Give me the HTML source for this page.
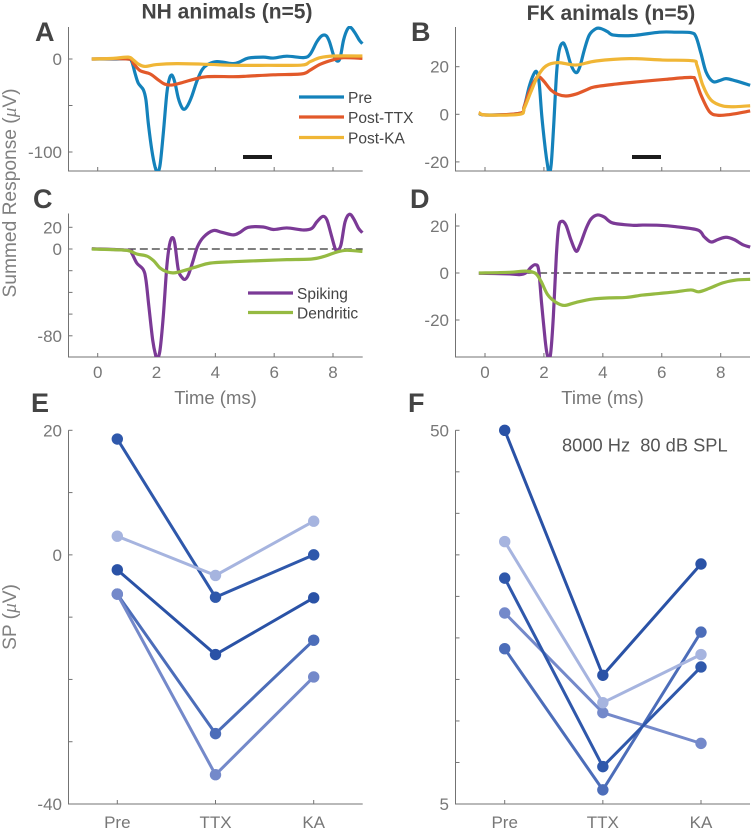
<!DOCTYPE html>
<html lang="en">
<head>
<meta charset="utf-8">
<title>Summed responses in NH and FK animals</title>
<style>
html,body{margin:0;padding:0;background:#fff;}
svg{display:block;font-family:"Liberation Sans",sans-serif;}
</style>
</head>
<body>
<svg id="figure" xmlns="http://www.w3.org/2000/svg" width="752" height="832" viewBox="0 0 752 832">
  <text x="227" y="18.5" text-anchor="middle" font-size="21" font-weight="bold" fill="#444">NH animals (n=5)</text>
  <text x="611" y="20" text-anchor="middle" font-size="21" font-weight="bold" fill="#444">FK animals (n=5)</text>
  <text x="35" y="41" font-size="27" font-weight="bold" fill="#444">A</text>
  <text x="411" y="41" font-size="27" font-weight="bold" fill="#444">B</text>
  <text x="33" y="208" font-size="27" font-weight="bold" fill="#444">C</text>
  <text x="410" y="208" font-size="27" font-weight="bold" fill="#444">D</text>
  <text x="31" y="412" font-size="27" font-weight="bold" fill="#444">E</text>
  <text x="408" y="412" font-size="27" font-weight="bold" fill="#444">F</text>
  <text transform="translate(16,193) rotate(-90)" text-anchor="middle" font-size="19.2" fill="#808080">Summed Response (<tspan font-family="'Liberation Serif',serif" font-style="italic">μ</tspan>V)</text>
  <text transform="translate(16,617) rotate(-90)" text-anchor="middle" font-size="19.2" fill="#808080">SP (<tspan font-family="'Liberation Serif',serif" font-style="italic">μ</tspan>V)</text>
  <text x="215.5" y="404" text-anchor="middle" font-size="18.5" fill="#777">Time (ms)</text>
  <text x="602.5" y="404" text-anchor="middle" font-size="18.5" fill="#777">Time (ms)</text>
  <text x="562" y="451.5" font-size="18.3" fill="#555" xml:space="preserve">8000 Hz  80 dB SPL</text>
  <rect x="243" y="155" width="29" height="4" fill="#1c1c1c"/>
  <rect x="632" y="155" width="29" height="4" fill="#1c1c1c"/>
  <line x1="299" x2="344" y1="97" y2="97" stroke="#1482bb" stroke-width="3.2"/>
  <text x="348" y="103" font-size="15.5" fill="#444">Pre</text>
  <line x1="299" x2="344" y1="117" y2="117" stroke="#e2592a" stroke-width="3.2"/>
  <text x="348" y="123" font-size="15.5" fill="#444">Post-TTX</text>
  <line x1="299" x2="344" y1="137.5" y2="137.5" stroke="#f0b636" stroke-width="3.2"/>
  <text x="348" y="143.5" font-size="15.5" fill="#444">Post-KA</text>
  <line x1="248" x2="293" y1="293" y2="293" stroke="#7b3a96" stroke-width="3.2"/>
  <text x="297" y="299" font-size="15.5" fill="#444">Spiking</text>
  <line x1="248" x2="293" y1="312.5" y2="312.5" stroke="#95ba42" stroke-width="3.2"/>
  <text x="297" y="318.5" font-size="15.5" fill="#444">Dendritic</text>
</svg>
<script>
// Panel A
const aPreTime = [-0.2,0.53,1.04,1.16,1.27,1.38,1.55,1.64,1.72,1.84,1.95,2.03,2.12,2.23,2.35,2.44,2.53,2.63,2.74,2.86,2.95,3.06,3.2,3.37,3.54,3.71,3.99,4.27,4.61,4.84,5.12,5.63,5.97,6.43,7.0,7.22,7.45,7.62,7.77,7.88,8.02,8.13,8.24,8.36,8.49,8.6,8.75,8.9,9];
const aPreValues = [0,0,0,-2.9,-15.4,-26,-33,-44,-69,-98,-116,-121,-114,-80,-37,-21,-17.5,-26,-42,-52,-54,-50,-40,-24,-12,-6.5,-3,-3.5,-5,-3,1,2,1,3,1.5,5,18.5,25,25,18.5,4,-2,1,20.5,32,34,28,20,16.5];
const aTtxTime = [-0.2,1.04,1.21,1.44,1.78,2.06,2.28,2.51,2.8,3.25,3.71,4.61,5.07,5.97,6.94,7.22,7.56,8.02,8.36,9];
const aTtxValues = [0,0,-4.7,-12.5,-16,-22.5,-27,-28,-26,-22,-19,-19,-18.5,-17,-16,-12,-5.7,-0.7,1.4,0.7];
const aKaTime = [-0.2,0.53,1.04,1.21,1.38,1.61,2.0,2.69,3.71,4.61,5.75,6.94,7.22,7.56,8.02,9];
const aKaValues = [0,0.7,2,-1,-5.4,-8,-6,-5,-5.7,-6.8,-6.8,-6.5,-2.9,1.4,3.2,3.2];
const aYTicks = [-100,-50,0];
const aYLabels = ['-100','','0'];

// Panel B
const bPreTime = [-0.21,0.03,1.17,1.33,1.5,1.64,1.75,1.84,1.93,2.05,2.13,2.18,2.25,2.33,2.43,2.52,2.64,2.75,2.92,3.09,3.22,3.37,3.54,3.77,3.94,4.16,4.36,5.01,5.92,6.48,6.99,7.16,7.33,7.5,7.73,7.95,8.18,8.52,9];
const bPreValues = [0.4,-0.3,0.4,3.2,11.6,16.5,17.9,13,-1,-15,-22,-25,-20.6,-5,17.3,27,30,27.7,20.7,17.5,20,27,33.3,36,36,34.7,33.3,33.1,34.5,34.5,34.3,32.6,25.6,17.9,13.8,14.1,15,14,12.2];
const bTtxTime = [-0.21,0.03,1.17,1.33,1.5,1.73,1.84,2.01,2.24,2.47,2.75,3.09,3.43,3.71,4.45,5.24,6.14,6.99,7.14,7.33,7.62,7.9,8.3,9];
const bTtxValues = [0.7,-0.3,0.4,3.2,9.5,15,15.8,13.7,10.2,8.4,7.7,8.5,10.2,11.5,12.7,13.7,14.7,15.5,14.4,8.1,1.1,-0.4,-0.1,1.4];
const bKaTime = [-0.21,0.03,1.17,1.33,1.56,1.79,2.07,2.47,3.09,3.77,4.9,6.03,7.05,7.19,7.39,7.67,8.07,8.52,9];
const bKaValues = [0.7,-0.3,0,2.5,9.5,16,20.3,21.7,20.7,22.4,23.4,22.8,22.5,20.7,12.3,6,3.5,3.2,3.6];
const bYTicks = [-20,0,20];
const bYLabels = ['-20','0','20'];

// Panel C
const cSpikingTime = [-0.2,1.04,1.16,1.33,1.55,1.64,1.74,1.87,1.97,2.03,2.12,2.23,2.35,2.44,2.53,2.62,2.74,2.86,2.97,3.08,3.23,3.39,3.6,3.93,4.22,4.61,4.84,5.12,5.63,5.97,6.43,7.0,7.28,7.45,7.65,7.79,7.94,8.07,8.15,8.27,8.41,8.56,8.7,8.87,9];
const cSpikingValues = [0.3,-1.2,-4,-13,-19,-28.5,-53,-84,-98,-101,-93,-62,-16,3.7,10.5,5.2,-19,-26,-28,-24,-12,2,11,17,15.4,13,15.4,20,20.3,18,19.4,17.5,19,25,30,27,13,0.6,-1.5,3.7,25,32,28,19,15];
const cDendriticTime = [-0.2,0.53,1.04,1.33,1.67,1.9,2.12,2.35,2.58,2.92,3.37,3.82,4.61,5.75,6.43,7.28,7.68,8.13,8.47,9];
const cDendriticValues = [0,-0.6,-1.5,-4.6,-6.5,-10.8,-17.5,-21,-22,-20,-16.3,-13,-11.7,-10.5,-9.8,-9.2,-7,-2.8,-1.2,-2.2];
const cYTicks = [-80,-60,-40,-20,0,20];
const cYLabels = ['-80','','','','0','20'];

// Panel D
const dSpikingTime = [-0.21,0.83,1.17,1.39,1.56,1.71,1.82,1.92,2.04,2.1,2.16,2.23,2.32,2.42,2.5,2.61,2.75,2.92,3.09,3.22,3.43,3.6,3.82,4.05,4.33,5.01,5.35,5.92,6.48,7.22,7.44,7.67,7.9,8.18,8.46,8.74,9];
const dSpikingValues = [-0.1,-0.4,-0.7,0.1,2.4,3.5,1.3,-12.8,-28.3,-34,-36,-34,-18.5,7,19.6,22,20.3,14,9.3,11.8,18.9,23,24.7,23.8,21.3,20.3,20.4,20.3,19.7,18.3,15.4,13.2,14.2,15.2,14.2,12.1,11];
const dDendriticTime = [-0.21,0.83,1.39,1.71,1.9,2.13,2.41,2.69,3.09,3.65,4.22,4.79,5.35,5.92,6.48,6.99,7.25,7.62,8.07,8.52,9];
const dDendriticValues = [0,0.3,0.8,-0.1,-3.5,-9.3,-12.5,-13.8,-12.5,-11.1,-10.6,-10.4,-9.4,-8.7,-8,-7.2,-8,-6.5,-4.2,-3,-2.7];
const dYTicks = [-20,0,20];
const dYLabels = ['-20','0','20'];

const timeTicks = [0,2,4,6,8];
const timeLabels = ['0','2','4','6','8'];

// Panels E and F
const conditions = ['Pre','TTX','KA'];
const eSeries1 = [18.6,-6.8,0];
const eSeries2 = [3,-3.3,5.4];
const eSeries3 = [-2.4,-16,-6.9];
const eSeries4 = [-6.3,-28.7,-13.7];
const eSeries5 = [-6.3,-35.3,-19.6];
const eYTicks = [-40,-30,-20,-10,0,10,20];
const eYLabels = ['-40','','','','0','','20'];
const fSeries1 = [50,20.5,33.9];
const fSeries2 = [36.6,17.2,23];
const fSeries3 = [32.2,9.5,21.5];
const fSeries4 = [28,16,12.3];
const fSeries5 = [23.7,6.7,25.7];
const fYTicks = [5,10,15,20,25,30,35,40,45,50];
const fYLabels = ['5','','','','','','','','','50'];

const NS = 'http://www.w3.org/2000/svg';
const svg = document.getElementById('figure');
const AXIS = '#737373';
const TICKTEXT = '#777';
let clipCount = 0;

function linear(d0, d1, r0, r1) {
  return function (v) { return r0 + (v - d0) * (r1 - r0) / (d1 - d0); };
}

function smoothPath(xs, ys) {
  let d = 'M' + xs[0].toFixed(2) + ',' + ys[0].toFixed(2);
  for (let i = 0; i < xs.length - 1; i++) {
    const i0 = Math.max(0, i - 1);
    const i3 = Math.min(xs.length - 1, i + 2);
    const c1x = xs[i] + (xs[i + 1] - xs[i0]) / 6;
    const c1y = ys[i] + (ys[i + 1] - ys[i0]) / 6;
    const c2x = xs[i + 1] - (xs[i3] - xs[i]) / 6;
    const c2y = ys[i + 1] - (ys[i3] - ys[i]) / 6;
    d += 'C' + c1x.toFixed(2) + ',' + c1y.toFixed(2) + ' ' + c2x.toFixed(2) + ',' + c2y.toFixed(2) + ' ' + xs[i + 1].toFixed(2) + ',' + ys[i + 1].toFixed(2);
  }
  return d;
}

function drawAxes(name, box, xs, xLabels, ys, yLabels, sx, sy) {
  const g = document.createElementNS(NS, 'g');
  
  
  svg.appendChild(g);

  const yAxis = document.createElementNS(NS, 'line');
  
  
  yAxis.setAttribute('x1', box.left);
  yAxis.setAttribute('x2', box.left);
  yAxis.setAttribute('y1', box.top);
  yAxis.setAttribute('y2', box.bottom + 0.5);
  yAxis.setAttribute('stroke', AXIS);
  yAxis.setAttribute('stroke-width', '1');
  g.appendChild(yAxis);

  const xAxis = document.createElementNS(NS, 'line');
  
  
  xAxis.setAttribute('x1', box.left);
  xAxis.setAttribute('x2', box.right);
  xAxis.setAttribute('y1', box.bottom);
  xAxis.setAttribute('y2', box.bottom);
  xAxis.setAttribute('stroke', AXIS);
  xAxis.setAttribute('stroke-width', '1');
  g.appendChild(xAxis);

  xs.forEach(function (v, i) {
    const px = sx(v);
    const tick = document.createElementNS(NS, 'line');
    
    
    tick.setAttribute('x1', px);
    tick.setAttribute('x2', px);
    tick.setAttribute('y1', box.bottom);
    tick.setAttribute('y2', box.bottom - 4);
    tick.setAttribute('stroke', AXIS);
    tick.setAttribute('stroke-width', '1');
    g.appendChild(tick);
    if (xLabels && xLabels[i]) {
      const label = document.createElementNS(NS, 'text');
      
      
      label.setAttribute('x', px);
      label.setAttribute('y', box.bottom + box.xLabelGap);
      label.setAttribute('text-anchor', 'middle');
      label.setAttribute('font-size', '17');
      label.setAttribute('fill', TICKTEXT);
      label.textContent = xLabels[i];
      g.appendChild(label);
    }
  });

  ys.forEach(function (v, i) {
    const py = sy(v);
    const tick = document.createElementNS(NS, 'line');
    
    
    tick.setAttribute('x1', box.left);
    tick.setAttribute('x2', box.left + 4);
    tick.setAttribute('y1', py);
    tick.setAttribute('y2', py);
    tick.setAttribute('stroke', AXIS);
    tick.setAttribute('stroke-width', '1');
    g.appendChild(tick);
    if (yLabels[i]) {
      const label = document.createElementNS(NS, 'text');
      
      
      label.setAttribute('x', box.left - 6.5);
      label.setAttribute('y', py + 6);
      label.setAttribute('text-anchor', 'end');
      label.setAttribute('font-size', '17');
      label.setAttribute('fill', TICKTEXT);
      label.textContent = yLabels[i];
      g.appendChild(label);
    }
  });
}

function makeClip(box) {
  clipCount += 1;
  const id = 'clip-' + clipCount;
  const clip = document.createElementNS(NS, 'clipPath');
  clip.setAttribute('id', id);
  const r = document.createElementNS(NS, 'rect');
  r.setAttribute('x', box.left);
  r.setAttribute('y', box.top - 1);
  r.setAttribute('width', box.right - box.left + 2);
  r.setAttribute('height', box.bottom - box.top + 1);
  clip.appendChild(r);
  svg.appendChild(clip);
  return id;
}

function drawTrace(name, clipId, times, values, sx, sy, color) {
  const path = document.createElementNS(NS, 'path');
  
  
  path.setAttribute('d', smoothPath(times.map(sx), values.map(sy)));
  path.setAttribute('fill', 'none');
  path.setAttribute('stroke', color);
  path.setAttribute('stroke-width', '3.2');
  path.setAttribute('stroke-linejoin', 'round');
  path.setAttribute('clip-path', 'url(#' + clipId + ')');
  svg.appendChild(path);
}

function drawZeroLine(name, box, sx, sy) {
  const zero = document.createElementNS(NS, 'line');
  
  
  zero.setAttribute('x1', sx(-0.2));
  zero.setAttribute('x2', box.right);
  zero.setAttribute('y1', sy(0));
  zero.setAttribute('y2', sy(0));
  zero.setAttribute('stroke', '#333');
  zero.setAttribute('stroke-width', '1.3');
  zero.setAttribute('stroke-dasharray', '8 4');
  svg.appendChild(zero);
}

function drawPaired(name, values, sx, sy, color) {
  const g = document.createElementNS(NS, 'g');
  
  
  svg.appendChild(g);
  const line = document.createElementNS(NS, 'polyline');
  
  
  line.setAttribute('points', values.map(function (v, i) { return sx(i) + ',' + sy(v); }).join(' '));
  line.setAttribute('fill', 'none');
  line.setAttribute('stroke', color);
  line.setAttribute('stroke-width', '3');
  g.appendChild(line);
  values.forEach(function (v, i) {
    const dot = document.createElementNS(NS, 'circle');
    
    
    dot.setAttribute('cx', sx(i));
    dot.setAttribute('cy', sy(v));
    dot.setAttribute('r', '5.7');
    dot.setAttribute('fill', color);
    g.appendChild(dot);
  });
}

const PRE = '#1482bb', TTX = '#e2592a', KA = '#f0b636', SPIKE = '#7b3a96', DEND = '#95ba42';

// A
const boxA = { left: 68.5, right: 362.7, top: 27, bottom: 171, xLabelGap: 0 };
const xA = linear(0, 8, 97.7, 333);
const yA = linear(0, -100, 59, 152);
drawAxes('panel-a', boxA, timeTicks, null, aYTicks, aYLabels, xA, yA);
const clipA = makeClip(boxA);
drawTrace('panel-a-trace-pre', clipA, aPreTime, aPreValues, xA, yA, PRE);
drawTrace('panel-a-trace-post-ttx', clipA, aTtxTime, aTtxValues, xA, yA, TTX);
drawTrace('panel-a-trace-post-ka', clipA, aKaTime, aKaValues, xA, yA, KA);

// B
const boxB = { left: 455.5, right: 750, top: 27, bottom: 171, xLabelGap: 0 };
const xB = linear(0, 8, 485, 720.7);
const yB = linear(0, 20, 114.3, 66.7);
drawAxes('panel-b', boxB, timeTicks, null, bYTicks, bYLabels, xB, yB);
const clipB = makeClip(boxB);
drawTrace('panel-b-trace-pre', clipB, bPreTime, bPreValues, xB, yB, PRE);
drawTrace('panel-b-trace-post-ttx', clipB, bTtxTime, bTtxValues, xB, yB, TTX);
drawTrace('panel-b-trace-post-ka', clipB, bKaTime, bKaValues, xB, yB, KA);

// C
const boxC = { left: 68.5, right: 362.7, top: 213.5, bottom: 357, xLabelGap: 21 };
const xC = linear(0, 8, 97.7, 333);
const yC = linear(0, 20, 249, 227.3);
drawAxes('panel-c', boxC, timeTicks, timeLabels, cYTicks, cYLabels, xC, yC);
const clipC = makeClip(boxC);
drawZeroLine('panel-c-zero-line', boxC, xC, yC);
drawTrace('panel-c-trace-spiking', clipC, cSpikingTime, cSpikingValues, xC, yC, SPIKE);
drawTrace('panel-c-trace-dendritic', clipC, cDendriticTime, cDendriticValues, xC, yC, DEND);

// D
const boxD = { left: 455.5, right: 750, top: 213.5, bottom: 357, xLabelGap: 21 };
const xD = linear(0, 8, 485, 720.7);
const yD = linear(0, 20, 273, 226);
drawAxes('panel-d', boxD, timeTicks, timeLabels, dYTicks, dYLabels, xD, yD);
const clipD = makeClip(boxD);
drawZeroLine('panel-d-zero-line', boxD, xD, yD);
drawTrace('panel-d-trace-spiking', clipD, dSpikingTime, dSpikingValues, xD, yD, SPIKE);
drawTrace('panel-d-trace-dendritic', clipD, dDendriticTime, dDendriticValues, xD, yD, DEND);

// E
const boxE = { left: 68.5, right: 362.7, top: 430.3, bottom: 804, xLabelGap: 24 };
const xE = linear(0, 2, 117.3, 313.7);
const yE = linear(-40, 20, 804, 430.3);
drawAxes('panel-e', boxE, [0, 1, 2], conditions, eYTicks, eYLabels, xE, yE);
drawPaired('panel-e-animal-1', eSeries1, xE, yE, '#2f58ab');
drawPaired('panel-e-animal-2', eSeries2, xE, yE, '#a6b4df');
drawPaired('panel-e-animal-3', eSeries3, xE, yE, '#2a52a6');
drawPaired('panel-e-animal-4', eSeries4, xE, yE, '#4c6db9');
drawPaired('panel-e-animal-5', eSeries5, xE, yE, '#7489ca');

// F
const boxF = { left: 455.5, right: 750, top: 430.3, bottom: 804, xLabelGap: 24 };
const xF = linear(0, 2, 504.7, 701);
const yF = linear(5, 50, 804, 430.3);
drawAxes('panel-f', boxF, [0, 1, 2], conditions, fYTicks, fYLabels, xF, yF);
drawPaired('panel-f-animal-5', fSeries5, xF, yF, '#4c6db9');
drawPaired('panel-f-animal-4', fSeries4, xF, yF, '#7489ca');
drawPaired('panel-f-animal-2', fSeries2, xF, yF, '#a6b4df');
drawPaired('panel-f-animal-3', fSeries3, xF, yF, '#2f58ab');
drawPaired('panel-f-animal-1', fSeries1, xF, yF, '#2a52a6');
</script>
</body>
</html>
